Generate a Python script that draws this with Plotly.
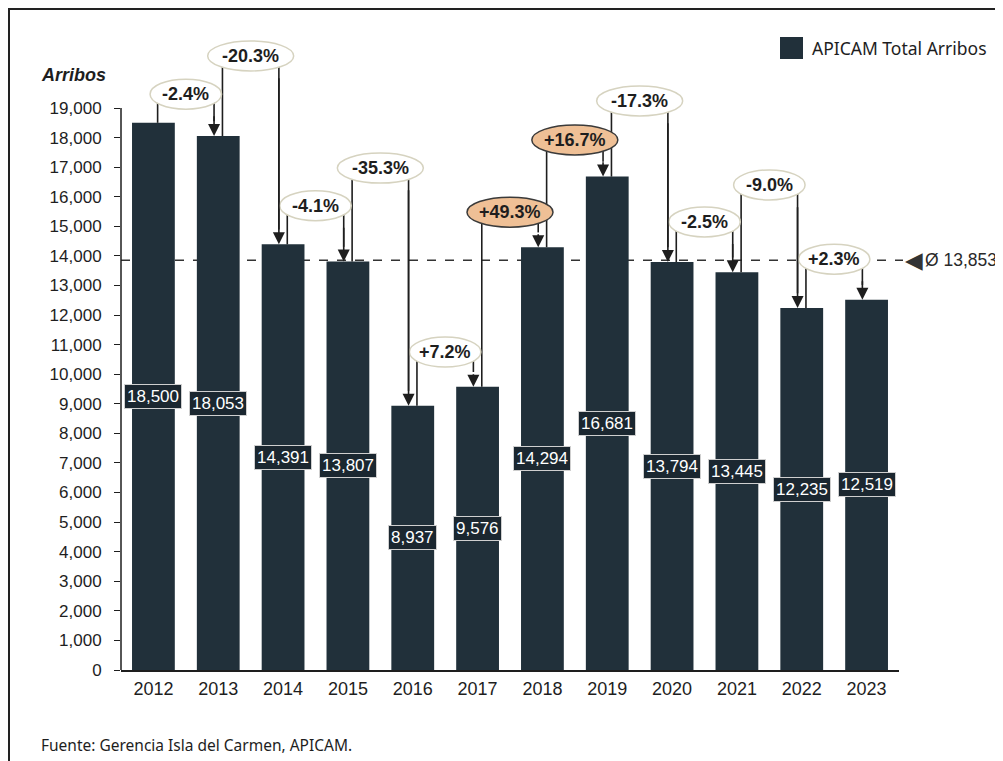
import plotly.graph_objects as go

# ---------------- data ----------------
years = ["2012", "2013", "2014", "2015", "2016", "2017",
         "2018", "2019", "2020", "2021", "2022", "2023"]
arribos = [18500, 18053, 14391, 13807, 8937, 9576,
           14294, 16681, 13794, 13445, 12235, 12519]
# height (in "Arribos" units) at which each year-over-year bracket label sits
bracket_levels = [19470, 20760, 15700, 16970, 10750, 15480,
                  17920, 19240, 15150, 16400, 13890]
y_ticks = list(range(0, 19001, 1000))

# ---------------- derived ----------------
n = len(years)
xi = list(range(n))
avg = sum(arribos) / n
changes = [(arribos[i + 1] / arribos[i] - 1) * 100 for i in range(n - 1)]
pct_labels = [f"{c:+.1f}%" for c in changes]

# ---------------- layout geometry ----------------
# the page body has an 8px margin, so the figure is laid out in page pixels
# and shifted back by that offset
OFF = 8
W, H = 1003 - OFF, 761 - OFF
PL, PR, PT, PB = 121, 899, 40, 670          # plot area in page pixels
ML, MT = PL - OFF, PT - OFF
MR, MB = W - (PR - OFF), H - (PB - OFF)
PW, PH = PR - PL, PB - PT
XR = (-0.5, 11.5)
YR = (0, 21300)
px_x = PW / (XR[1] - XR[0])      # px per category
px_y = PH / (YR[1] - YR[0])      # px per unit

def paper_x(px):
    return (px - PL) / PW

def paper_y(py):
    return (PB - py) / PH

BAR_COLOR = "#21303a"
INK = "#1e1e1e"
FONT = "Liberation Sans, Arial, sans-serif"
FONT2 = "Noto Sans, Open Sans, sans-serif"

fig = go.Figure()
fig.add_trace(go.Bar(
    x=xi, y=arribos, width=0.66,
    marker=dict(color=BAR_COLOR, line=dict(width=0)),
    name="APICAM Total Arribos", showlegend=False, hoverinfo="x+y",
))

shapes = []
annotations = []

# frame around the whole figure (right & bottom edges run off the picture)
shapes.append(dict(type="rect", xref="paper", yref="paper",
                   x0=paper_x(OFF + 1), x1=paper_x(1030),
                   y0=paper_y(800), y1=paper_y(OFF + 1),
                   line=dict(color="#222222", width=2), layer="above"))

# y-axis line from 0 to top tick only
shapes.append(dict(type="line", xref="paper", yref="y", x0=0, x1=0,
                   y0=0, y1=y_ticks[-1], line=dict(color=INK, width=1.5)))

# average dashed line
shapes.append(dict(type="line", xref="paper", yref="y",
                   x0=0, x1=paper_x(903), y0=avg, y1=avg,
                   line=dict(color="#333333", width=1.3, dash="dash"),
                   layer="below"))

off = 4.2 / px_x          # horizontal offset of bracket legs from bar centre
ell_h = 30 / px_y          # ellipse height in data units

# bracket legs (drawn first so ellipses cover their ends)
for i, lvl in enumerate(bracket_levels):
    xl = i + off
    xr = i + 1 - off
    shapes.append(dict(type="line", xref="x", yref="y", x0=xl, x1=xl,
                       y0=arribos[i], y1=lvl, line=dict(color=INK, width=1.6)))
    shapes.append(dict(type="line", xref="x", yref="y", x0=xr, x1=xr,
                       y0=arribos[i + 1] + 500, y1=lvl, line=dict(color=INK, width=1.6)))
    annotations.append(dict(x=xr, y=arribos[i + 1], ax=xr, ay=lvl - 700,
                            xref="x", yref="y", axref="x", ayref="y",
                            text="", showarrow=True, arrowhead=2,
                            arrowsize=1.5, arrowwidth=1.6, arrowcolor=INK,
                            standoff=0))

# ellipses + percentage labels
for i, (lvl, lab, c) in enumerate(zip(bracket_levels, pct_labels, changes)):
    w_px = 14.5 * len(lab) - 1
    hw = w_px / 2 / px_x
    hot = c > 10
    shapes.append(dict(type="circle", xref="x", yref="y",
                       x0=i + 0.5 - hw, x1=i + 0.5 + hw,
                       y0=lvl - ell_h / 2, y1=lvl + ell_h / 2,
                       fillcolor="#efc096" if hot else "#ffffff",
                       line=dict(color="#3a3a3a" if hot else "#d6d3c0", width=1.5),
                       layer="above"))
    annotations.append(dict(x=i + 0.5, y=lvl, xref="x", yref="y", text=f"<b>{lab}</b>",
                            showarrow=False, font=dict(family=FONT, size=18, color=INK)))

# value labels inside bars
for i, v in enumerate(arribos):
    annotations.append(dict(x=i, y=v / 2, xref="x", yref="y", text=f"{v:,}",
                            showarrow=False, bgcolor="#1b2730",
                            bordercolor="#cfcfcf", borderwidth=1, borderpad=2,
                            font=dict(family=FONT, size=17, color="#ffffff")))

# average label (triangle marker + value)
annotations.append(dict(x=paper_x(903), y=avg, xref="paper", yref="y",
                        xanchor="left", yanchor="middle",
                        text="◀", showarrow=False,
                        font=dict(family="DejaVu Sans, sans-serif", size=23, color="#333333")))
annotations.append(dict(x=paper_x(923), y=avg, xref="paper", yref="y",
                        xanchor="left", yanchor="middle",
                        text=f"Ø {avg:,.0f}", showarrow=False,
                        font=dict(family=FONT, size=17.5, color="#2a2a2a")))

# axis title
annotations.append(dict(x=paper_x(108), y=paper_y(75), xref="paper", yref="paper",
                        xanchor="right", yanchor="middle", text="<b><i>Arribos</i></b>",
                        showarrow=False, font=dict(family=FONT, size=18, color=INK)))

# legend (custom)
shapes.append(dict(type="rect", xref="paper", yref="paper",
                   x0=paper_x(780), x1=paper_x(803), y0=paper_y(59), y1=paper_y(37),
                   fillcolor=BAR_COLOR, line=dict(width=0)))
annotations.append(dict(x=paper_x(810), y=paper_y(48), xref="paper", yref="paper",
                        xanchor="left", yanchor="middle", text="APICAM Total Arribos",
                        showarrow=False, font=dict(family=FONT2, size=17.5, color=INK)))

# source
annotations.append(dict(x=paper_x(39), y=paper_y(745), xref="paper", yref="paper",
                        xanchor="left", yanchor="middle",
                        text="Fuente: Gerencia Isla del Carmen, APICAM.",
                        showarrow=False, font=dict(family=FONT2, size=15.5, color=INK)))

fig.update_layout(
    width=W, height=H, autosize=False,
    margin=dict(l=ML, r=MR, t=MT, b=MB, pad=0),
    paper_bgcolor="white", plot_bgcolor="white",
    showlegend=False, bargap=0.34,
    shapes=shapes, annotations=annotations,
    xaxis=dict(range=list(XR), tickvals=xi, ticktext=years, showgrid=False,
               zeroline=False, showline=True, linecolor=INK, linewidth=1.5,
               ticks="", ticklabelstandoff=2,
               tickfont=dict(family=FONT, size=18, color=INK)),
    yaxis=dict(range=list(YR), tickvals=y_ticks, tickformat=",", showgrid=False,
               zeroline=False, showline=False, ticks="outside", ticklen=6,
               tickwidth=1.4, tickcolor=INK, ticklabelstandoff=9,
               tickfont=dict(family=FONT, size=17, color=INK)),
)

fig.write_html("out.html")
